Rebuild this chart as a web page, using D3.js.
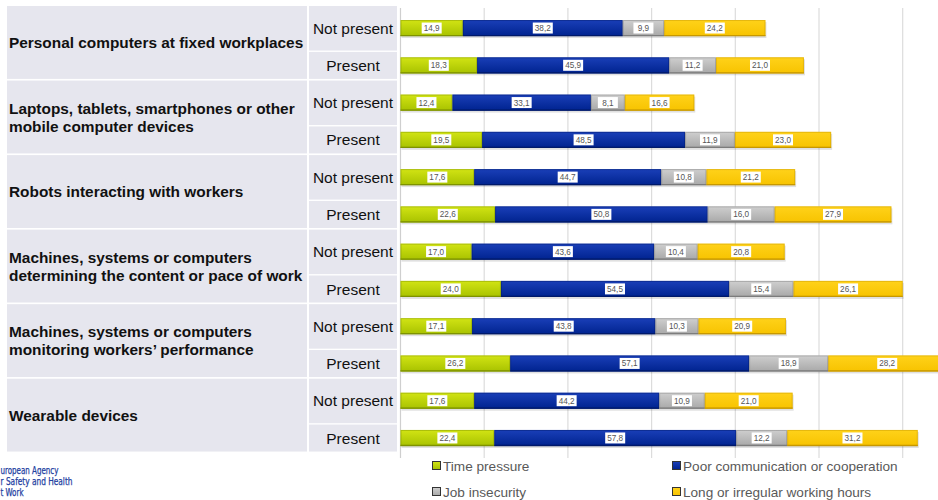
<!DOCTYPE html>
<html>
<head>
<meta charset="utf-8">
<script src="https://cdn.jsdelivr.net/npm/d3@7"></script>
<style>
  html, body { margin: 0; padding: 0; background: #fff; }
  svg { display: block; }
</style>
</head>
<body>
<svg id="chart" width="938" height="500"></svg>
<script>
// ---------- data ----------
const categories = [
  ["Personal computers at fixed workplaces"],
  ["Laptops, tablets, smartphones or other", "mobile computer devices"],
  ["Robots interacting with workers"],
  ["Machines, systems or computers", "determining the content or pace of work"],
  ["Machines, systems or computers", "monitoring workers\u2019 performance"],
  ["Wearable devices"]
];
const groups = ["Not present", "Present"];
const seriesNames = ["Time pressure", "Poor communication or cooperation", "Job insecurity", "Long or irregular working hours"];
// values in row order: cat1 NP, cat1 P, cat2 NP, cat2 P, ...
const timePressure   = [14.9, 18.3, 12.4, 19.5, 17.6, 22.6, 17.0, 24.0, 17.1, 26.2, 17.6, 22.4];
const poorCommunication = [38.2, 45.9, 33.1, 48.5, 44.7, 50.8, 43.6, 54.5, 43.8, 57.1, 44.2, 57.8];
const jobInsecurity  = [9.9, 11.2, 8.1, 11.9, 10.8, 16.0, 10.4, 15.4, 10.3, 18.9, 10.9, 12.2];
const longHours      = [24.2, 21.0, 16.6, 23.0, 21.2, 27.9, 20.8, 26.1, 20.9, 28.2, 21.0, 31.2];
const xTicks = [0, 20, 40, 60, 80, 100, 120, 140];
// logo text as visible in the picture (cut by the left edge of the slide)
const logoLines = ["uropean Agency", "r Safety and Health", "t Work"];

// ---------- styles ----------
const colors = [
  {top: "#d2e414", bottom: "#a8c200", stroke: "#7f9300"},
  {top: "#1a3fb8", bottom: "#00238f", stroke: "#001a6a"},
  {top: "#cfcfcf", bottom: "#a8a8a8", stroke: "#7d7d7d"},
  {top: "#ffd21a", bottom: "#f7c300", stroke: "#c79800"}
];
const seriesData = [timePressure, poorCommunication, jobInsecurity, longHours];

const svg = d3.select("#chart");
const defs = svg.append("defs");
colors.forEach((c, i) => {
  const g = defs.append("linearGradient").attr("id", "grad" + i)
    .attr("x1", 0).attr("y1", 0).attr("x2", 0).attr("y2", 1);
  g.append("stop").attr("offset", "0%").attr("stop-color", c.top);
  g.append("stop").attr("offset", "100%").attr("stop-color", c.bottom);
});

const nRows = categories.length * groups.length;
const rows = d3.range(nRows);
const x = d3.scaleLinear().domain([0, 140]).range([400.5, 986.4]);
const y = d3.scaleBand().domain(rows).range([9.4, 456.6]).paddingInner(0.57).paddingOuter(0.285);
const cy = r => y(r) + y.bandwidth() / 2;

// ---------- left table ----------
const tableBg = "#e6e6ee";
const catX0 = 7, catX1 = 307, subX0 = 309, subX1 = 397;
categories.forEach((lines, ci) => {
  const rNP = ci * 2, rP = ci * 2 + 1;
  const top = cy(rNP) - 22;
  const npBottom = cy(rNP) + 22.5;
  const pTop = cy(rP) - 13.4;
  const bottom = cy(rP) + 13.6;
  svg.append("rect").attr("x", catX0).attr("y", top).attr("width", catX1 - catX0).attr("height", bottom - top).attr("fill", tableBg);
  svg.append("rect").attr("x", subX0).attr("y", top).attr("width", subX1 - subX0).attr("height", npBottom - top).attr("fill", tableBg);
  svg.append("rect").attr("x", subX0).attr("y", pTop).attr("width", subX1 - subX0).attr("height", bottom - pTop).attr("fill", tableBg);
  const mid = (top + bottom) / 2;
  const lh = 18;
  const t = svg.append("text").attr("x", 9).attr("font-family", "Liberation Sans, Arial, sans-serif")
    .attr("font-size", 15.4).attr("font-weight", "bold").attr("fill", "#111");
  lines.forEach((ln, li) => {
    t.append("tspan").attr("x", 9)
      .attr("y", mid + (li - (lines.length - 1) / 2) * lh + 5.5)
      .text(ln);
  });
  groups.forEach((gname, gi) => {
    const yc = gi === 0 ? (top + npBottom) / 2 : (pTop + bottom) / 2;
    svg.append("text").attr("x", (subX0 + subX1) / 2).attr("y", yc + 5.5)
      .attr("text-anchor", "middle").attr("font-family", "Liberation Sans, Arial, sans-serif")
      .attr("font-size", 15.5).attr("fill", "#111").text(gname);
  });
});

// ---------- grid ----------
const gridTop = 8, gridBottom = 458;
svg.append("g").selectAll("line").data(xTicks).join("line")
  .attr("x1", d => x(d)).attr("x2", d => x(d))
  .attr("y1", gridTop).attr("y2", gridBottom)
  .attr("stroke", d => d === 0 ? "#cfcfcf" : "#dcdcdc").attr("stroke-width", 1.2);

// ---------- bars ----------
const stacked = rows.map(r => {
  let acc = 0;
  return seriesData.map((s, si) => {
    const v = s[r];
    const seg = {row: r, series: si, x0: acc, x1: acc + v, value: v};
    acc += v;
    return seg;
  });
});
const barG = svg.append("g");
barG.selectAll("rect.shadow").data(stacked).join("rect").attr("class", "shadow")
  .attr("x", d => x(0) + 1).attr("y", d => y(d[0].row) + 2)
  .attr("width", d => x(d[3].x1) - x(0)).attr("height", y.bandwidth())
  .attr("fill", "#000").attr("opacity", 0.12);
const segs = stacked.flat();
barG.selectAll("rect.seg").data(segs).join("rect").attr("class", "seg")
  .attr("x", d => x(d.x0)).attr("y", d => y(d.row))
  .attr("width", d => x(d.x1) - x(d.x0)).attr("height", y.bandwidth())
  .attr("fill", d => `url(#grad${d.series})`);
barG.selectAll("line.edge").data(segs).join("line").attr("class", "edge")
  .attr("x1", d => x(d.x0)).attr("x2", d => x(d.x1))
  .attr("y1", d => y(d.row) + y.bandwidth() - 0.5).attr("y2", d => y(d.row) + y.bandwidth() - 0.5)
  .attr("stroke", d => colors[d.series].stroke).attr("stroke-width", 1.3);
barG.selectAll("rect.outline").data(segs).join("rect").attr("class", "outline")
  .attr("x", d => x(d.x0) + 0.5).attr("y", d => y(d.row) + 0.5)
  .attr("width", d => Math.max(0, x(d.x1) - x(d.x0) - 1)).attr("height", y.bandwidth() - 1)
  .attr("fill", "none").attr("stroke", d => colors[d.series].stroke).attr("stroke-opacity", 0.45).attr("stroke-width", 1);

// value labels
const fmt = v => v.toFixed(1).replace(".", ",");
const labG = svg.append("g");
segs.forEach(d => {
  const xc = (x(d.x0) + x(d.x1)) / 2;
  const yc = cy(d.row);
  const w = 20, h = 11;
  labG.append("rect").attr("x", xc - w / 2).attr("y", yc - h / 2).attr("width", w).attr("height", h).attr("fill", "#fff");
  labG.append("text").attr("x", xc).attr("y", yc + 3).attr("text-anchor", "middle")
    .attr("font-family", "Liberation Sans, Arial, sans-serif").attr("font-size", 8.2)
    .attr("fill", "#555").text(fmt(d.value));
});

// ---------- legend ----------
const legendPos = [[432, 466], [672, 466], [432, 492], [672, 492]];
seriesNames.forEach((name, i) => {
  const [lx, ly] = legendPos[i];
  svg.append("rect").attr("x", lx + 0.5).attr("y", ly - 4.5).attr("width", 8).attr("height", 8)
    .attr("fill", `url(#grad${i})`).attr("stroke", "#333").attr("stroke-width", 1);
  svg.append("text").attr("x", lx + 11).attr("y", ly + 5)
    .attr("font-family", "Liberation Sans, Arial, sans-serif").attr("font-size", 13.6)
    .attr("fill", "#595959").text(name);
});

// ---------- logo text ----------
const logoWidths = [58, 72, 23];
logoLines.forEach((ln, i) => {
  svg.append("text").attr("x", 0.5).attr("y", 474 + i * 11.2)
    .attr("font-family", "DejaVu Sans Condensed, Liberation Sans Narrow, sans-serif")
    .attr("font-size", 10.5).attr("fill", "#22409f")
    .attr("stroke", "#22409f").attr("stroke-width", 0.25)
    .attr("textLength", logoWidths[i]).attr("lengthAdjust", "spacingAndGlyphs")
    .text(ln);
});
</script>
</body>
</html>
